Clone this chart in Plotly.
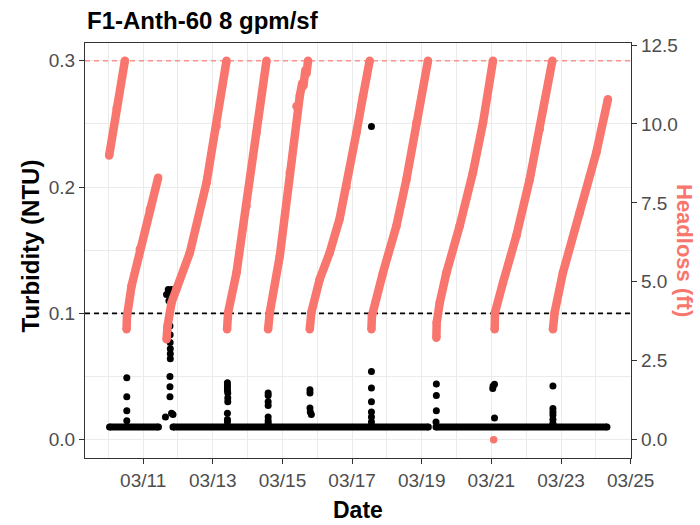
import plotly.graph_objects as go
import pandas as pd

# ---------------- data (day of March, fractional) ----------------
# Headloss (ft) – filter runs separated by None
hl_day = [10.024, 10.24, 10.475, None,
          10.524, 10.535, 10.667, 10.905, 11.192, 11.431, None,
          11.672, 11.70, 11.815, 11.96, 12.34, 12.82, 13.107, 13.394, None,
          13.41, 13.44, 13.681, 13.968, 14.255, 14.542, None,
          14.588, 14.637, 14.924, 15.211, 15.403, 15.50, 15.57, 15.60, 15.66, 15.69, 15.736, None,
          15.785, 15.83, 16.07, 16.356, 16.643, 16.836, 17.124, 17.313, 17.505, None,
          17.556, 17.57, 17.888, 18.273, 18.56, 18.847, 19.18, None,
          19.421, 19.43, 19.518, 19.71, 20.09, 20.47, 20.76, 21.046, None,
          21.095, 21.105, 21.333, 21.716, 22.1, 22.387, 22.751, None,
          22.768, 22.817, 23.055, 23.534, 24.013, 24.347]
hl_ft = [9.0, 10.5, 12.0, None,
         3.5, 3.9, 4.87, 6.03, 7.29, 8.3, None,
         3.18, 3.6, 4.34, 4.8, 5.92, 8.14, 9.93, 12.0, None,
         3.5, 4.03, 5.29, 7.4, 9.72, 12.0, None,
         3.5, 4.03, 5.82, 8.46, 10.56, 10.9, 11.3, 11.2, 11.7, 11.6, 12.0, None,
         3.5, 4.03, 5.08, 5.92, 7.0, 8.0, 9.72, 10.88, 12.0, None,
         3.5, 3.92, 5.29, 6.77, 8.24, 10.04, 12.0, None,
         3.23, 3.71, 4.34, 5.29, 6.77, 8.46, 10.04, 12.0, None,
         3.5, 4.03, 4.97, 6.45, 8.24, 9.83, 12.0, None,
         3.5, 4.03, 5.29, 7.19, 9.09, 10.78]
hl_point_day = [21.066]
hl_point_ft = [0.0]

# Turbidity (NTU) – steady baseline runs and individual spike readings
base_day = [10.035, 11.44, None, 11.856, 19.19, None, 19.41, 24.32]
base_ntu = [0.01, 0.01, None, 0.01, 0.01, None, 0.01, 0.01]
spike_day = [10.53, 10.53, 10.53, 10.53,
             11.64, 11.672, 11.72, 11.745, 11.815, 11.74, 11.77, 11.77, 11.775, 11.775,
             11.78, 11.78, 11.78, 11.77, 11.77, 11.77, 11.815, 11.857,
             13.42, 13.42, 13.42, 13.42, 13.43, 13.43, 13.43, 13.42, 13.42, 13.42,
             14.59, 14.59, 14.59, 14.59, 14.59, 14.59, 14.59,
             15.79, 15.79, 15.79, 15.80, 15.83,
             17.556, 17.556, 17.556, 17.556, 17.556, 17.556, 17.556,
             19.42, 19.42, 19.42, 19.41,
             21.05, 21.09, 21.04, 21.09,
             22.768, 22.768, 22.768, 22.768, 22.768, 22.768]
spike_ntu = [0.049, 0.034, 0.023, 0.015,
             0.018, 0.115, 0.119, 0.117, 0.119, 0.11, 0.10, 0.09, 0.083, 0.077,
             0.072, 0.068, 0.064, 0.050, 0.042, 0.034, 0.021, 0.020,
             0.045, 0.043, 0.041, 0.039, 0.037, 0.033, 0.030, 0.021, 0.016, 0.014,
             0.037, 0.035, 0.030, 0.027, 0.018, 0.015, 0.013,
             0.0396, 0.037, 0.025, 0.022, 0.020,
             0.248, 0.054, 0.041, 0.030, 0.022, 0.018, 0.014,
             0.044, 0.035, 0.023, 0.014,
             0.0426, 0.0439, 0.0405, 0.0172,
             0.0426, 0.0247, 0.022, 0.0195, 0.016, 0.013]

x_tick_days = [11, 13, 15, 17, 19, 21, 23, 25]
x_tick_labels = ["03/11", "03/13", "03/15", "03/17", "03/19", "03/21", "03/23", "03/25"]
x_minor_days = [10, 12, 14, 16, 18, 20, 22, 24]
ntu_ticks = [0.0, 0.1, 0.2, 0.3]
ntu_labels = ["0.0", "0.1", "0.2", "0.3"]
ntu_minor = [0.05, 0.15, 0.25]
ft_ticks = [0.0, 2.5, 5.0, 7.5, 10.0, 12.5]
ft_labels = ["0.0", "2.5", "5.0", "7.5", "10.0", "12.5"]
turbidity_limit = 0.1
headloss_limit_ntu = 0.3
ft_per_ntu = 40.0
x_range_days = [9.33, 25.01]
ntu_range = [-0.0145, 0.3141]

# ---------------- helpers ----------------
MARCH0 = pd.Timestamp("2021-03-01")


def to_dt(days):
    return [None if d is None else MARCH0 + pd.Timedelta(days=d - 1) for d in days]


RED = "#F8766D"
FONT = "Liberation Sans, Arial, sans-serif"
GRID = "#EBEBEB"
AX = "#333333"
TICKC = "#4D4D4D"

fig = go.Figure()

# reference lines (drawn first, under the data)
fig.add_trace(go.Scatter(x=to_dt(x_range_days), y=[turbidity_limit] * 2, mode="lines",
                         line=dict(color="black", width=1.6, dash="5px,4px"),
                         showlegend=False, hoverinfo="skip"))
fig.add_trace(go.Scatter(x=to_dt(x_range_days), y=[headloss_limit_ntu] * 2, mode="lines",
                         line=dict(color="#F8948C", width=1.6, dash="5px,4px"),
                         showlegend=False, hoverinfo="skip"))

fig.add_trace(go.Scatter(x=to_dt(base_day), y=base_ntu, mode="lines+markers",
                         line=dict(color="black", width=7),
                         marker=dict(color="black", size=7),
                         connectgaps=False, showlegend=False, hoverinfo="skip"))
fig.add_trace(go.Scatter(x=to_dt(spike_day), y=spike_ntu, mode="markers",
                         marker=dict(color="black", size=7),
                         showlegend=False))
fig.add_trace(go.Scatter(x=to_dt(hl_day), y=hl_ft, mode="lines+markers", yaxis="y2",
                         line=dict(color=RED, width=8.5),
                         marker=dict(color=RED, size=8.5),
                         connectgaps=False, showlegend=False))
fig.add_trace(go.Scatter(x=to_dt(hl_point_day), y=hl_point_ft, mode="markers", yaxis="y2",
                         marker=dict(color=RED, size=7.5), showlegend=False))

tickfont = dict(family=FONT, size=19, color=TICKC)

fig.update_layout(
    width=700, height=525,
    margin=dict(l=85, r=69, t=43, b=67),
    paper_bgcolor="white", plot_bgcolor="white",
    xaxis=dict(type="date", range=to_dt(x_range_days),
               tickvals=to_dt(x_tick_days), ticktext=x_tick_labels,
               tickfont=tickfont, ticks="outside", ticklen=5, tickwidth=1.2,
               tickcolor=AX, showline=True, linecolor=AX, linewidth=1.3, mirror=True,
               showgrid=True, gridcolor=GRID, gridwidth=1.2, zeroline=False,
               minor=dict(tickvals=to_dt(x_minor_days), showgrid=True,
                          gridcolor=GRID, gridwidth=0.8, ticks="")),
    yaxis=dict(range=ntu_range, tickvals=ntu_ticks, ticktext=ntu_labels,
               tickfont=tickfont, ticks="outside", ticklen=5, tickwidth=1.2,
               tickcolor=AX, showline=True, linecolor=AX, linewidth=1.3, mirror=False,
               showgrid=True, gridcolor=GRID, gridwidth=1.2, zeroline=False,
               minor=dict(tickvals=ntu_minor, showgrid=True, gridcolor=GRID,
                          gridwidth=0.8, ticks="")),
    yaxis2=dict(overlaying="y", side="right",
                range=[v * ft_per_ntu for v in ntu_range],
                tickvals=ft_ticks, ticktext=ft_labels,
                tickfont=tickfont, ticks="outside", ticklen=5, tickwidth=1.2,
                tickcolor=AX, showline=True, linecolor=AX, linewidth=1.3,
                showgrid=False, zeroline=False),
    showlegend=False,
)

fig.add_annotation(text="<b>F1-Anth-60 8 gpm/sf</b>", xref="paper", yref="paper",
                   x=0, y=1.055, xanchor="left", yanchor="middle", showarrow=False,
                   font=dict(family=FONT, size=24, color="black"))
fig.add_annotation(text="<b>Date</b>", xref="paper", yref="paper",
                   x=0.5, y=-0.125, xanchor="center", yanchor="middle", showarrow=False,
                   font=dict(family=FONT, size=23, color="black"))
fig.add_annotation(text="<b>Turbidity (NTU)</b>", xref="paper", yref="paper",
                   x=-0.1006, y=0.51, xanchor="center", yanchor="middle", showarrow=False,
                   textangle=-90, font=dict(family=FONT, size=24, color="black"))
fig.add_annotation(text="<b>Headloss (ft)</b>", xref="paper", yref="paper",
                   x=1.098, y=0.5, xanchor="center", yanchor="middle", showarrow=False,
                   textangle=90, font=dict(family=FONT, size=22, color=RED))

fig.write_html("out.html")
